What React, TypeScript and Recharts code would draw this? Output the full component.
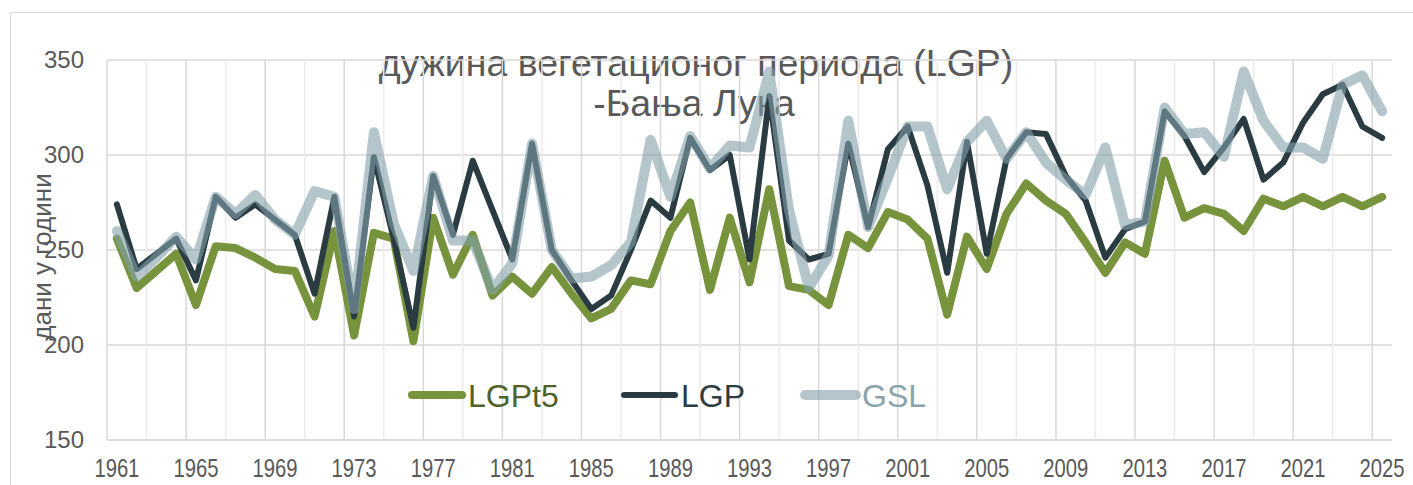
import React from "react";
import { LineChart, Line, XAxis, YAxis, CartesianGrid, ReferenceLine, Legend } from "recharts";

const years = [
  1961, 1962, 1963, 1964, 1965, 1966, 1967, 1968, 1969, 1970, 1971, 1972, 1973,
  1974, 1975, 1976, 1977, 1978, 1979, 1980, 1981, 1982, 1983, 1984, 1985, 1986,
  1987, 1988, 1989, 1990, 1991, 1992, 1993, 1994, 1995, 1996, 1997, 1998, 1999,
  2000, 2001, 2002, 2003, 2004, 2005, 2006, 2007, 2008, 2009, 2010, 2011, 2012,
  2013, 2014, 2015, 2016, 2017, 2018, 2019, 2020, 2021, 2022, 2023, 2024, 2025,
];

const lgpT5 = [
  256, 230, 239, 248, 221, 252, 251, 246, 240, 239, 215, 260, 205,
  259, 256, 202, 267, 237, 258, 226, 236, 227, 241, 227, 214, 219,
  234, 232, 260, 275, 229, 267, 233, 282, 231, 229, 221, 258, 251,
  270, 266, 256, 216, 257, 240, 269, 285, 276, 269, 254, 238, 254,
  248, 297, 267, 272, 269, 260, 277, 273, 278, 273, 278, 273, 278,
];

const lgp = [
  274, 240, 248, 256, 234, 278, 267, 274, 266, 258, 227, 278, 215,
  299, 256, 209, 289, 258, 297, 271, 245, 306, 250, 234, 219, 226,
  250, 276, 267, 309, 292, 300, 245, 331, 255, 245, 248, 306, 262,
  303, 315, 284, 238, 307, 248, 298, 312, 311, 289, 276, 246, 261,
  265, 323, 310, 291, 304, 319, 287, 296, 317, 332, 337, 315, 309,
];

const gsl = [
  260, 236, 246, 257, 245, 278, 269, 279, 266, 258, 281, 278, 219,
  312, 264, 239, 289, 255, 255, 229, 243, 306, 250, 235, 236, 242,
  254, 308, 278, 310, 293, 305, 304, 344, 271, 230, 247, 318, 262,
  288, 315, 315, 282, 307, 318, 298, 312, 296, 287, 279, 304, 263,
  265, 325, 311, 312, 299, 344, 318, 304, 304, 298, 337, 342, 323,
];

const yearTicks = [1961, 1965, 1969, 1973, 1977, 1981, 1985, 1989, 1993, 1997, 2001, 2005, 2009, 2013, 2017, 2021, 2025];
const valueTicks = [150, 200, 250, 300, 350];

// vertical grid sits on the category boundaries, every second year
const gridYears = years.filter((_, i) => i % 2 === 0).map((y) => y - 0.5);

const series = [
  { key: "LGPt5", color: "#77933c", width: 8, opacity: 1, text: "#4f6228" },
  { key: "LGP", color: "#2a3b42", width: 6, opacity: 1, text: "#2a3b42" },
  { key: "GSL", color: "#82a0aa", width: 10, opacity: 0.6, text: "#8aa4ad" },
];

const data = years.map((year, i) => ({ year, LGPt5: lgpT5[i], LGP: lgp[i], GSL: gsl[i] }));

const font = '"Liberation Sans", Arial, sans-serif';

function XTick({ x, y, payload }: any) {
  return (
    <text x={x} y={y + 29} textAnchor="middle" fill="#595959" fontSize={26} fontFamily={font} textLength={45} lengthAdjust="spacingAndGlyphs">
      {payload.value}
    </text>
  );
}

function YTick({ x, y, payload }: any) {
  return (
    <text x={x - 15} y={y} dy="0.35em" textAnchor="end" fill="#595959" fontSize={24} fontFamily={font}>
      {payload.value}
    </text>
  );
}

const legendPos = [
  { line: [16, 66], text: 72 },
  { line: [228, 279], text: 285 },
  { line: [409, 460], text: 466 },
];

function LegendBox() {
  return (
    <svg width={560} height={50} style={{ display: "block" }}>
      {series.map((s, i) => (
        <g key={s.key}>
          <line x1={legendPos[i].line[0]} x2={legendPos[i].line[1]} y1={25} y2={25} stroke={s.color} strokeOpacity={s.opacity} strokeWidth={s.width} strokeLinecap="round" />
          <text x={legendPos[i].text} y={37} fill={s.text} fontSize={32} fontFamily={font}>
            {s.key}
          </text>
        </g>
      ))}
    </svg>
  );
}

export default function App() {
  return (
    <div style={{ position: "absolute", left: 0, top: 0, width: 1413, height: 485, overflow: "hidden", background: "#fff" }}>
      <div style={{ position: "absolute", left: 10, top: 12, width: 1420, height: 500, border: "1px solid #d9d9d9" }} />
      <svg width={1413} height={485} style={{ position: "absolute", left: 0, top: 0 }}>
        <text textAnchor="middle" fill="#595959" fontSize={37.5} fontFamily={font}>
          <tspan x={696} y={76}>дужина вегетационог периода (LGP)</tspan>
          <tspan x={694} y={116}>-Бања Лука</tspan>
        </text>
        <text x={51} y={257} transform="rotate(-90, 51, 257)" textAnchor="middle" fill="#595959" fontSize={26} fontFamily={font}>
          дани у години
        </text>
      </svg>
      <div style={{ position: "absolute", left: 0, top: 0 }}>
        <LineChart width={1413} height={485} data={data} margin={{ top: 60, right: 21, bottom: 0, left: 0 }}>
          <CartesianGrid vertical={false} stroke="#d9d9d9" strokeWidth={1.3} />
          {gridYears.map((g, i) => (
            <ReferenceLine key={g} x={g} stroke={i % 2 === 0 ? "#d9d9d9" : "#ececec"} strokeWidth={1.5} />
          ))}
          <XAxis
            dataKey="year"
            type="number"
            domain={[1960.5, 2025.5]}
            ticks={yearTicks}
            interval={0}
            height={45}
            axisLine={{ stroke: "#d9d9d9", strokeWidth: 1.3 }}
            tickLine={false}
            tick={<XTick />}
            allowDataOverflow
          />
          <YAxis domain={[150, 350]} ticks={valueTicks} width={107} axisLine={false} tickLine={false} tick={<YTick />} />
          {series.map((s) => (
            <Line
              key={s.key}
              dataKey={s.key}
              type="linear"
              stroke={s.color}
              strokeOpacity={s.opacity}
              strokeWidth={s.width}
              strokeLinejoin="round"
              strokeLinecap="round"
              dot={false}
              activeDot={false}
              isAnimationActive={false}
            />
          ))}
          <Legend
            layout="horizontal"
            verticalAlign="middle"
            align="center"
            content={<LegendBox />}
            wrapperStyle={{ left: 396, top: 370, width: 560, height: 50 }}
          />
        </LineChart>
      </div>
    </div>
  );
}
